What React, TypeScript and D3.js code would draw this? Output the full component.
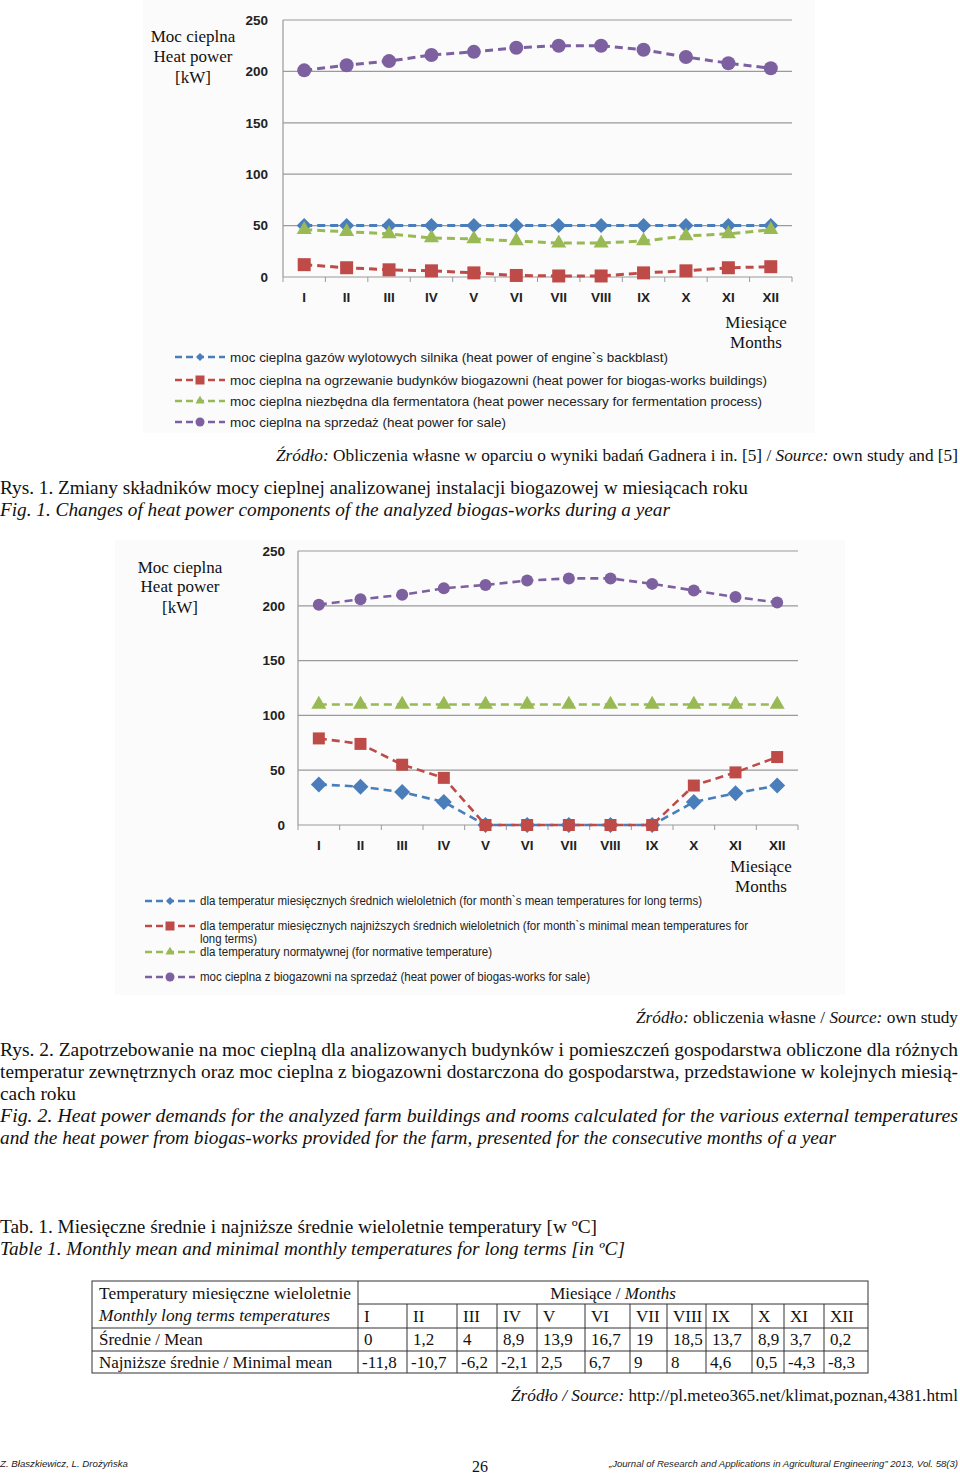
import * as d3 from 'd3';

// ---- data ----
const MONTHS = ['I', 'II', 'III', 'IV', 'V', 'VI', 'VII', 'VIII', 'IX', 'X', 'XI', 'XII'];
const Y_TICKS = [0, 50, 100, 150, 200, 250];

// Rys. 1
const FIG1_ENGINE = [50, 50, 50, 50, 50, 50, 50, 50, 50, 50, 50, 50];
const FIG1_BUILDINGS = [12, 9, 7, 6, 4, 1.5, 1, 1, 4, 6, 9, 10];
const FIG1_FERMENTER = [46, 44, 42, 38, 37, 35, 33, 33, 35, 40, 42, 46];
const FIG1_SALE = [201, 206, 210, 216, 219, 223, 225, 225, 221, 214, 208, 203];

// Rys. 2
const FIG2_MEAN = [37, 35, 30, 21, 0, 0, 0, 0, 0, 21, 29, 36];
const FIG2_MINIMAL = [79, 74, 55, 43, 0, 0, 0, 0, 0, 36, 48, 62];
const FIG2_NORMATIVE = [110, 110, 110, 110, 110, 110, 110, 110, 110, 110, 110, 110];
const FIG2_SALE = [201, 206, 210, 216, 219, 223, 225, 225, 220, 214, 208, 203];

// Tab. 1
const TEMP_MEAN = [0, 1.2, 4, 8.9, 13.9, 16.7, 19, 18.5, 13.7, 8.9, 3.7, 0.2];
const TEMP_MINIMAL = [-11.8, -10.7, -6.2, -2.1, 2.5, 6.7, 9, 8, 4.6, 0.5, -4.3, -8.3];

const FIG1_LEGEND = [
  'moc cieplna gazów wylotowych silnika (heat power of engine`s backblast)',
  'moc cieplna na ogrzewanie budynków biogazowni (heat power for biogas-works buildings)',
  'moc cieplna niezbędna dla fermentatora (heat power necessary for fermentation process)',
  'moc cieplna na sprzedaż (heat power for sale)',
];
const FIG2_LEGEND = [
  'dla temperatur miesięcznych średnich wieloletnich (for month`s mean temperatures for long terms)',
  'dla temperatur miesięcznych najniższych średnich wieloletnich (for month`s minimal mean temperatures for',
  'dla temperatury normatywnej (for normative temperature)',
  'moc cieplna z biogazowni na sprzedaż (heat power of biogas-works for sale)',
];

// ---- styles ----
const SERIF = '"Liberation Serif", "Times New Roman", serif';
const SANS = '"Liberation Sans", Arial, sans-serif';
const NARROW = '"Liberation Sans Narrow", "Arial Narrow", "Liberation Sans", sans-serif';
const INK = '#111';

const BLUE = '#4a7ebb';
const RED = '#be4b48';
const GREEN = '#98b954';
const PURPLE = '#7d60a0';

type Shape = 'diamond' | 'square' | 'triangle' | 'circle';

interface Series {
  values: number[];
  color: string;
  shape: Shape;
}

function symbolPath(shape: Shape, size: number): string {
  // size = visual width of the marker in px
  if (shape === 'circle') return d3.symbol(d3.symbolCircle, Math.PI * (size / 2) ** 2)() ?? '';
  if (shape === 'square') return d3.symbol(d3.symbolSquare, size * size)() ?? '';
  if (shape === 'diamond') return d3.symbol(d3.symbolSquare, (size * size) / 2)() ?? '';
  return d3.symbol(d3.symbolTriangle, (size * size * Math.sqrt(3)) / 4)() ?? '';
}

function Marker({ shape, x, y, size, color }: { shape: Shape; x: number; y: number; size: number; color: string }) {
  const rot = shape === 'diamond' ? ' rotate(45)' : '';
  return <path d={symbolPath(shape, size)} transform={`translate(${x},${y})${rot}`} fill={color} />;
}

interface ChartProps {
  left: number;
  right: number;
  top: number;
  bottom: number;
  labelRight: number;
  series: Series[];
  sizes: Record<Shape, number>;
  lineWidth: number;
}

function LineChart({ left, right, top, bottom, labelRight, series, sizes, lineWidth }: ChartProps) {
  const x = d3.scaleBand<string>().domain(MONTHS).range([left, right]);
  const y = d3.scaleLinear().domain([0, 250]).range([bottom, top]);
  const line = d3
    .line<number>()
    .x((_, i) => (x(MONTHS[i]) ?? 0) + x.bandwidth() / 2)
    .y((d) => y(d));

  return (
    <g>
      {Y_TICKS.map((t) => (
        <g key={t}>
          <line x1={left} x2={right} y1={y(t)} y2={y(t)} stroke="#9a9a9a" strokeWidth={1.2} />
          <text
            x={labelRight}
            y={y(t)}
            dy="0.36em"
            textAnchor="end"
            fontFamily={SANS}
            fontWeight="bold"
            fontSize={13.5}
            fill="#222"
          >
            {t}
          </text>
        </g>
      ))}
      <line x1={left} x2={left} y1={top} y2={bottom} stroke="#9a9a9a" strokeWidth={1.2} />
      {d3.range(MONTHS.length + 1).map((i) => {
        const px = left + i * x.step();
        return <line key={i} x1={px} x2={px} y1={bottom} y2={bottom + 5} stroke="#9a9a9a" strokeWidth={1} />;
      })}
      {MONTHS.map((m) => (
        <text
          key={m}
          x={(x(m) ?? 0) + x.bandwidth() / 2}
          y={bottom + 25}
          textAnchor="middle"
          fontFamily={SANS}
          fontWeight="bold"
          fontSize={13.5}
          fill="#222"
        >
          {m}
        </text>
      ))}
      {series.map((s, si) => (
        <g key={si}>
          <path d={line(s.values) ?? ''} fill="none" stroke={s.color} strokeWidth={lineWidth} strokeDasharray="8,5" />
          {s.values.map((v, i) => (
            <Marker
              key={i}
              shape={s.shape}
              x={(x(MONTHS[i]) ?? 0) + x.bandwidth() / 2}
              y={y(v)}
              size={sizes[s.shape]}
              color={s.color}
            />
          ))}
        </g>
      ))}
    </g>
  );
}

function Legend({
  x,
  rows,
  series,
  fontSize,
}: {
  x: number;
  rows: { y: number; width: number; text: string; cont?: { y: number; width: number; text: string } }[];
  series: Series[];
  fontSize: number;
}) {
  const small: Record<Shape, number> = { diamond: 8, square: 9, triangle: 9, circle: 9 };
  return (
    <g>
      {rows.map((r, i) => (
        <g key={i}>
          <line x1={x} x2={x + 50} y1={r.y} y2={r.y} stroke={series[i].color} strokeWidth={2.5} strokeDasharray="7,4" />
          <Marker shape={series[i].shape} x={x + 25} y={r.y} size={small[series[i].shape]} color={series[i].color} />
          <text
            x={x + 55}
            y={r.y}
            dy="0.35em"
            fontFamily={NARROW}
            fontSize={fontSize}
            fill="#222"
            textLength={r.width}
            lengthAdjust="spacingAndGlyphs"
          >
            {r.text}
          </text>
          {r.cont && (
            <text
              x={x + 55}
              y={r.cont.y}
              dy="0.35em"
              fontFamily={NARROW}
              fontSize={fontSize}
              fill="#222"
              textLength={r.cont.width}
              lengthAdjust="spacingAndGlyphs"
            >
              {r.cont.text}
            </text>
          )}
        </g>
      ))}
    </g>
  );
}

function TLine({
  x,
  y,
  width,
  size = 18,
  italic = false,
  children,
}: {
  x: number;
  y: number;
  width?: number;
  size?: number;
  italic?: boolean;
  children: React.ReactNode;
}) {
  return (
    <text
      x={x}
      y={y}
      fontFamily={SERIF}
      fontSize={size}
      fontStyle={italic ? 'italic' : 'normal'}
      fill={INK}
      textLength={width}
      lengthAdjust="spacingAndGlyphs"
    >
      {children}
    </text>
  );
}

const fmt = (v: number) => String(v).replace('.', ',');

function TempTable() {
  const cols = [92, 358, 407, 457, 497, 537, 585, 630, 667, 706, 752, 784, 824, 868];
  const rows = [1281, 1304, 1328, 1351, 1373];
  const stroke = '#333';
  return (
    <g fontFamily={SERIF} fontSize={17} fill={INK}>
      <rect x={cols[0]} y={rows[0]} width={cols[13] - cols[0]} height={rows[4] - rows[0]} fill="none" stroke={stroke} />
      <line x1={cols[1]} x2={cols[13]} y1={rows[1]} y2={rows[1]} stroke={stroke} />
      <line x1={cols[0]} x2={cols[13]} y1={rows[2]} y2={rows[2]} stroke={stroke} />
      <line x1={cols[0]} x2={cols[13]} y1={rows[3]} y2={rows[3]} stroke={stroke} />
      <line x1={cols[1]} x2={cols[1]} y1={rows[0]} y2={rows[4]} stroke={stroke} />
      {cols.slice(2, 13).map((c) => (
        <line key={c} x1={c} x2={c} y1={rows[1]} y2={rows[4]} stroke={stroke} />
      ))}
      <text x={99} y={rows[0] + 18} textLength={252} lengthAdjust="spacingAndGlyphs">
        Temperatury miesięczne wieloletnie
      </text>
      <text x={99} y={rows[1] + 17} fontStyle="italic" textLength={231} lengthAdjust="spacingAndGlyphs">
        Monthly long terms temperatures
      </text>
      <text x={(cols[1] + cols[13]) / 2} y={rows[0] + 18} textAnchor="middle">
        Miesiące / <tspan fontStyle="italic">Months</tspan>
      </text>
      {MONTHS.map((m, i) => (
        <text key={m} x={cols[i + 1] + 6} y={rows[1] + 18}>
          {m}
        </text>
      ))}
      <text x={99} y={rows[2] + 17}>
        Średnie / Mean
      </text>
      <text x={99} y={rows[3] + 17}>
        Najniższe średnie / Minimal mean
      </text>
      {TEMP_MEAN.map((v, i) => (
        <text key={i} x={cols[i + 1] + 6} y={rows[2] + 17}>
          {fmt(v)}
        </text>
      ))}
      {TEMP_MINIMAL.map((v, i) => (
        <text key={i} x={cols[i + 1] + 4} y={rows[3] + 17}>
          {fmt(v)}
        </text>
      ))}
    </g>
  );
}

export default function App() {
  const fig1Series: Series[] = [
    { values: FIG1_ENGINE, color: BLUE, shape: 'diamond' },
    { values: FIG1_BUILDINGS, color: RED, shape: 'square' },
    { values: FIG1_FERMENTER, color: GREEN, shape: 'triangle' },
    { values: FIG1_SALE, color: PURPLE, shape: 'circle' },
  ];
  const fig2Series: Series[] = [
    { values: FIG2_MEAN, color: BLUE, shape: 'diamond' },
    { values: FIG2_MINIMAL, color: RED, shape: 'square' },
    { values: FIG2_NORMATIVE, color: GREEN, shape: 'triangle' },
    { values: FIG2_SALE, color: PURPLE, shape: 'circle' },
  ];

  return (
    <svg
      width={960}
      height={1477}
      viewBox="0 0 960 1477"
      style={{ position: 'absolute', left: 0, top: 0, background: '#fff' }}
    >
      {/* ---------- Rys. 1 ---------- */}
      <rect x={143} y={0} width={672} height={433} fill="#fbfbfb" />
      <g fontFamily={SERIF} fontSize={17} fill={INK} textAnchor="middle">
        <text x={193} y={42}>Moc cieplna</text>
        <text x={193} y={62}>Heat power</text>
        <text x={193} y={83}>[kW]</text>
        <text x={756} y={328}>Miesiące</text>
        <text x={756} y={348}>Months</text>
      </g>
      <LineChart
        left={283}
        right={792}
        top={20}
        bottom={277}
        labelRight={268}
        series={fig1Series}
        sizes={{ diamond: 15, square: 13, triangle: 15, circle: 14 }}
        lineWidth={3}
      />
      <Legend
        x={175}
        series={fig1Series}
        fontSize={13.5}
        rows={[
          { y: 357, width: 438, text: FIG1_LEGEND[0] },
          { y: 380, width: 537, text: FIG1_LEGEND[1] },
          { y: 401, width: 532, text: FIG1_LEGEND[2] },
          { y: 422, width: 276, text: FIG1_LEGEND[3] },
        ]}
      />

      <TLine x={276} y={461} width={682} size={17}>
        <tspan fontStyle="italic">Źródło:</tspan> Obliczenia własne w oparciu o wyniki badań Gadnera i in. [5] /{' '}
        <tspan fontStyle="italic">Source:</tspan> own study and [5]
      </TLine>
      <TLine x={0} y={494} width={748}>
        Rys. 1. Zmiany składników mocy cieplnej analizowanej instalacji biogazowej w miesiącach roku
      </TLine>
      <TLine x={0} y={516} width={670} italic>
        Fig. 1. Changes of heat power components of the analyzed biogas-works during a year
      </TLine>

      {/* ---------- Rys. 2 ---------- */}
      <rect x={115} y={540} width={730} height={455} fill="#fbfbfb" />
      <g fontFamily={SERIF} fontSize={17} fill={INK} textAnchor="middle">
        <text x={180} y={573}>Moc cieplna</text>
        <text x={180} y={592}>Heat power</text>
        <text x={180} y={613}>[kW]</text>
        <text x={761} y={872}>Miesiące</text>
        <text x={761} y={892}>Months</text>
      </g>
      <LineChart
        left={298}
        right={798}
        top={551}
        bottom={825}
        labelRight={285}
        series={fig2Series}
        sizes={{ diamond: 16, square: 12, triangle: 15, circle: 12 }}
        lineWidth={2.6}
      />
      <Legend
        x={145}
        series={fig2Series}
        fontSize={12}
        rows={[
          { y: 901, width: 502, text: FIG2_LEGEND[0] },
          { y: 926, width: 548, text: FIG2_LEGEND[1], cont: { y: 939, width: 57, text: 'long terms)' } },
          { y: 952, width: 292, text: FIG2_LEGEND[2] },
          { y: 977, width: 390, text: FIG2_LEGEND[3] },
        ]}
      />

      <TLine x={636} y={1023} width={322} size={17}>
        <tspan fontStyle="italic">Źródło:</tspan> obliczenia własne / <tspan fontStyle="italic">Source:</tspan> own study
      </TLine>
      <TLine x={0} y={1056} width={958}>
        Rys. 2. Zapotrzebowanie na moc cieplną dla analizowanych budynków i pomieszczeń gospodarstwa obliczone dla różnych
      </TLine>
      <TLine x={0} y={1078} width={958}>
        temperatur zewnętrznych oraz moc cieplna z biogazowni dostarczona do gospodarstwa, przedstawione w kolejnych miesią-
      </TLine>
      <TLine x={0} y={1100} width={76}>
        cach roku
      </TLine>
      <TLine x={0} y={1122} width={958} italic>
        Fig. 2. Heat power demands for the analyzed farm buildings and rooms calculated for the various external temperatures
      </TLine>
      <TLine x={0} y={1144} width={836} italic>
        and the heat power from biogas-works provided for the farm, presented for the consecutive months of a year
      </TLine>

      {/* ---------- Tab. 1 ---------- */}
      <TLine x={0} y={1233} width={597}>
        Tab. 1. Miesięczne średnie i najniższe średnie wieloletnie temperatury [w ºC]
      </TLine>
      <TLine x={0} y={1255} width={625} italic>
        Table 1. Monthly mean and minimal monthly temperatures for long terms [in ºC]
      </TLine>
      <TempTable />
      <TLine x={511} y={1401} width={447} size={17}>
        <tspan fontStyle="italic">Źródło / Source:</tspan> http://pl.meteo365.net/klimat,poznan,4381.html
      </TLine>

      {/* ---------- footer ---------- */}
      <text x={0} y={1467} fontFamily={SANS} fontStyle="italic" fontSize={9} fill="#222" textLength={128} lengthAdjust="spacingAndGlyphs">
        Z. Błaszkiewicz, L. Drożyńska
      </text>
      <text x={480} y={1472} fontFamily={SERIF} fontSize={16} fill={INK} textAnchor="middle">
        26
      </text>
      <text x={609} y={1467} fontFamily={SANS} fontStyle="italic" fontSize={9} fill="#222" textLength={349} lengthAdjust="spacingAndGlyphs">
        „Journal of Research and Applications in Agricultural Engineering” 2013, Vol. 58(3)
      </text>
    </svg>
  );
}
